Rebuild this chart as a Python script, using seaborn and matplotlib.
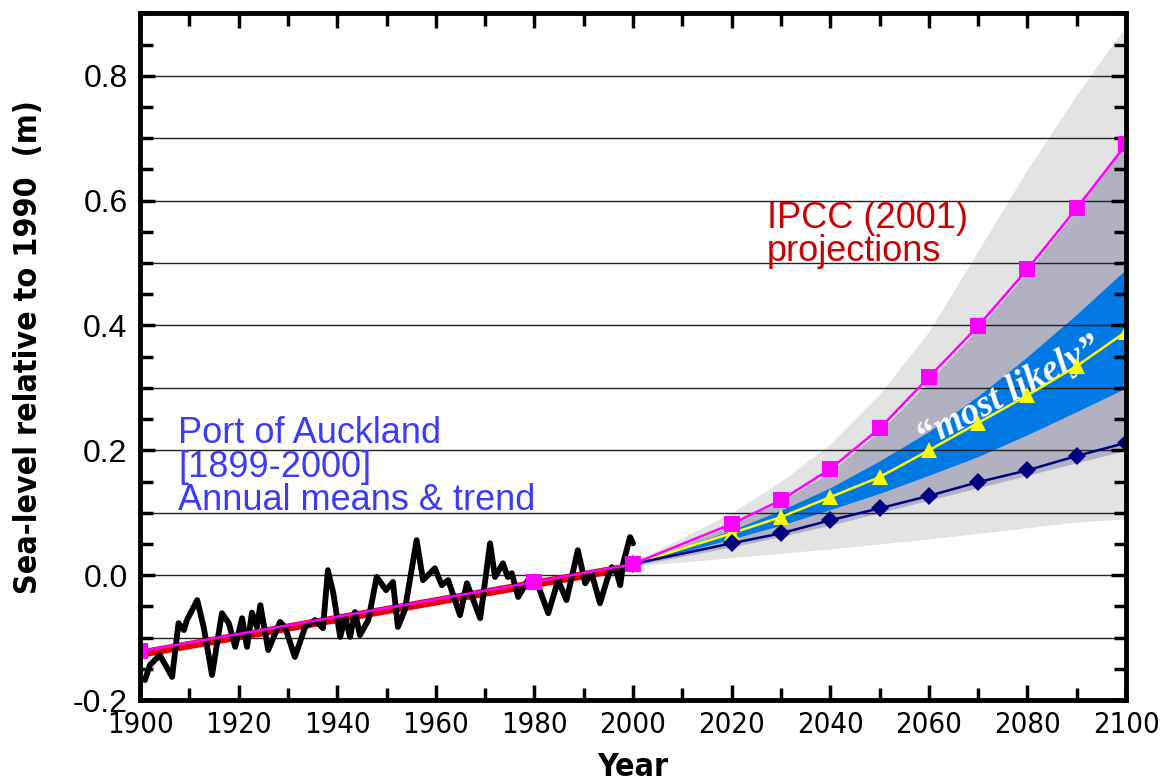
import numpy as np
import pandas as pd
import matplotlib
matplotlib.use("Agg")
import matplotlib.pyplot as plt
import seaborn as sns
from matplotlib.ticker import MultipleLocator, FormatStrFormatter

# Port of Auckland annual means
obs_years = [1901, 1902, 1904, 1906.5, 1907.8, 1908.9, 1909.5, 1911.6, 1912.9, 1914.6,
             1916.6, 1918, 1919.3, 1920.7, 1921.7, 1922.7, 1923.7, 1924.4, 1926, 1928.4,
             1929.4, 1931.4, 1933.5, 1935.5, 1937.1, 1938.1, 1939.2, 1940.6, 1941.6, 1942.6,
             1943.6, 1944.6, 1946.3, 1948, 1949.9, 1951.3, 1952.3, 1953.7, 1956.1, 1957.4,
             1959.8, 1961.2, 1962.5, 1964.9, 1966.3, 1967.6, 1969, 1971, 1972, 1973.6,
             1974.6, 1975.4, 1976.7, 1978.7, 1980.7, 1982.8, 1984.8, 1986.5, 1988.8, 1990.3,
             1991.6, 1993.3, 1994.7, 1995.7, 1996.7, 1997.4, 1998, 1999.4, 2000]
obs_level = [-0.168, -0.144, -0.128, -0.163, -0.077, -0.088, -0.072, -0.040, -0.083, -0.160,
             -0.061, -0.077, -0.115, -0.069, -0.115, -0.060, -0.083, -0.048, -0.120, -0.075,
             -0.083, -0.131, -0.083, -0.072, -0.085, 0.008, -0.029, -0.099, -0.067, -0.099,
             -0.059, -0.096, -0.072, -0.003, -0.024, -0.011, -0.083, -0.056, 0.056, -0.008,
             0.011, -0.016, -0.008, -0.064, -0.013, -0.040, -0.069, 0.051, -0.003, 0.019,
             -0.003, 0.003, -0.035, -0.008, -0.016, -0.061, -0.008, -0.040, 0.040, -0.013,
             0.003, -0.045, -0.008, 0.013, 0.003, -0.016, 0.019, 0.061, 0.051]

# linear trend
trend_years = [1900, 2000]
trend_level = [-0.126, 0.014]

# IPCC (2001) projection curves
upper_years = [1900, 1980, 2000, 2020, 2030, 2040, 2050, 2060, 2070, 2080, 2090, 2100]
upper_level = [-0.122, -0.011, 0.018, 0.082, 0.120, 0.170, 0.235, 0.317, 0.399, 0.490, 0.588, 0.690]
proj_years = [2000, 2020, 2030, 2040, 2050, 2060, 2070, 2080, 2090, 2100]
mid_level = [0.018, 0.067, 0.093, 0.125, 0.157, 0.200, 0.244, 0.288, 0.335, 0.390]
low_level = [0.018, 0.051, 0.067, 0.088, 0.107, 0.127, 0.149, 0.168, 0.191, 0.212]

# envelopes
band_years = [2000, 2010, 2020, 2030, 2040, 2050, 2060, 2070, 2080, 2090, 2100]
outer_hi = [0.020, 0.060, 0.100, 0.150, 0.210, 0.290, 0.390, 0.520, 0.650, 0.770, 0.880]
outer_lo = [0.015, 0.021, 0.028, 0.035, 0.042, 0.050, 0.058, 0.067, 0.076, 0.085, 0.090]
grey_hi = [0.020, 0.048, 0.080, 0.118, 0.165, 0.230, 0.310, 0.395, 0.485, 0.585, 0.690]
grey_lo = [0.015, 0.030, 0.045, 0.062, 0.080, 0.100, 0.120, 0.140, 0.160, 0.180, 0.200]
blue_hi = [0.020, 0.045, 0.072, 0.104, 0.140, 0.183, 0.230, 0.287, 0.350, 0.418, 0.490]
blue_lo = [0.016, 0.037, 0.058, 0.080, 0.105, 0.131, 0.160, 0.190, 0.225, 0.262, 0.300]

sns.set_style("white")
plt.rcParams['font.family'] = ['Liberation Sans', 'DejaVu Sans']
narrow = ['DejaVu Sans', 'Liberation Sans']

fig = plt.figure(figsize=(11.71, 7.83), dpi=100)
ax = fig.add_axes([0.1196, 0.106, 0.842, 0.877])
ax.set_axisbelow(False)

# shaded envelopes
ax.fill_between(band_years, outer_lo, outer_hi, color='#e3e3e3', lw=0, zorder=1)
ax.fill_between(band_years, grey_lo, grey_hi, color='#b1b1c1', lw=0, zorder=1.1)
ax.fill_between(band_years, blue_lo, blue_hi, color='#0079e4', lw=0, zorder=1.2)

# grid lines every 0.1
for g in np.arange(-0.1, 0.81, 0.1):
    ax.axhline(g, color='#222222', lw=1.0, zorder=2)

# observations and trend
sns.lineplot(x=trend_years, y=trend_level, ax=ax, color='#e00000', lw=6, zorder=3)
sns.lineplot(x=obs_years, y=obs_level, ax=ax, color='black', lw=4.2, zorder=4, sort=False)

# projections
sns.lineplot(x=upper_years, y=upper_level, ax=ax, color='#ff00ff', lw=1.8, marker='s',
             markersize=11, markeredgewidth=0, zorder=6)
sns.lineplot(x=proj_years, y=mid_level, ax=ax, color='#ffff00', lw=1.8, marker='^',
             markersize=12, markeredgewidth=0, zorder=5)
sns.lineplot(x=proj_years, y=low_level, ax=ax, color='#000080', lw=1.8, marker='D',
             markersize=9, markeredgewidth=0, zorder=5)

ax.set_xlim(1900, 2100)
ax.set_ylim(-0.2, 0.9)
ax.xaxis.set_major_locator(MultipleLocator(20))
ax.xaxis.set_minor_locator(MultipleLocator(10))
ax.yaxis.set_major_locator(MultipleLocator(0.2))
ax.yaxis.set_minor_locator(MultipleLocator(0.05))
ax.yaxis.set_major_formatter(FormatStrFormatter('%.1f'))
ax.tick_params(axis='both', which='both', direction='in', width=2.5,
               colors='black', top=True, right=True, bottom=True, left=True)
ax.tick_params(which='major', length=11)
ax.tick_params(which='minor', length=9)
ax.tick_params(axis='y', which='major', labelsize=23, pad=9)
ax.tick_params(axis='x', which='major', labelsize=21, pad=8)
for lab in ax.get_xticklabels():
    lab.set_family(narrow)
    lab.set_stretch('condensed')
for s in ax.spines.values():
    s.set_linewidth(3.5)
    s.set_color('black')
    s.set_zorder(10)

ax.set_xlabel('Year', fontsize=23, fontweight='bold', family=narrow,
              fontstretch='condensed', color='black')
ax.set_ylabel('Sea-level relative to 1990  (m)', fontsize=23, fontweight='bold',
              family=narrow, fontstretch='condensed', color='black')
ax.xaxis.set_label_coords(0.5, -0.076)
ax.xaxis.label.set_va('top')
ax.yaxis.set_label_coords(-0.097, 0.514)

ax.text(1907.7, 0.255, 'Port of Auckland\n[1899-2000]\nAnnual means & trend',
        color='#3b3bff', fontsize=26, va='top', ha='left', linespacing=0.95, zorder=7)
ax.text(2027.2, 0.600, 'IPCC (2001)\nprojections', color='#cc0000', fontsize=26,
        va='top', ha='left', linespacing=0.95, zorder=7)
ax.text(2076.3, 0.292, '\u201cmost likely\u201d', color='white', fontsize=27,
        family=['Liberation Serif', 'DejaVu Serif'], style='italic', fontweight='bold',
        rotation=28, ha='center', va='center', zorder=4.5)

fig.savefig('out.png', dpi=100)
